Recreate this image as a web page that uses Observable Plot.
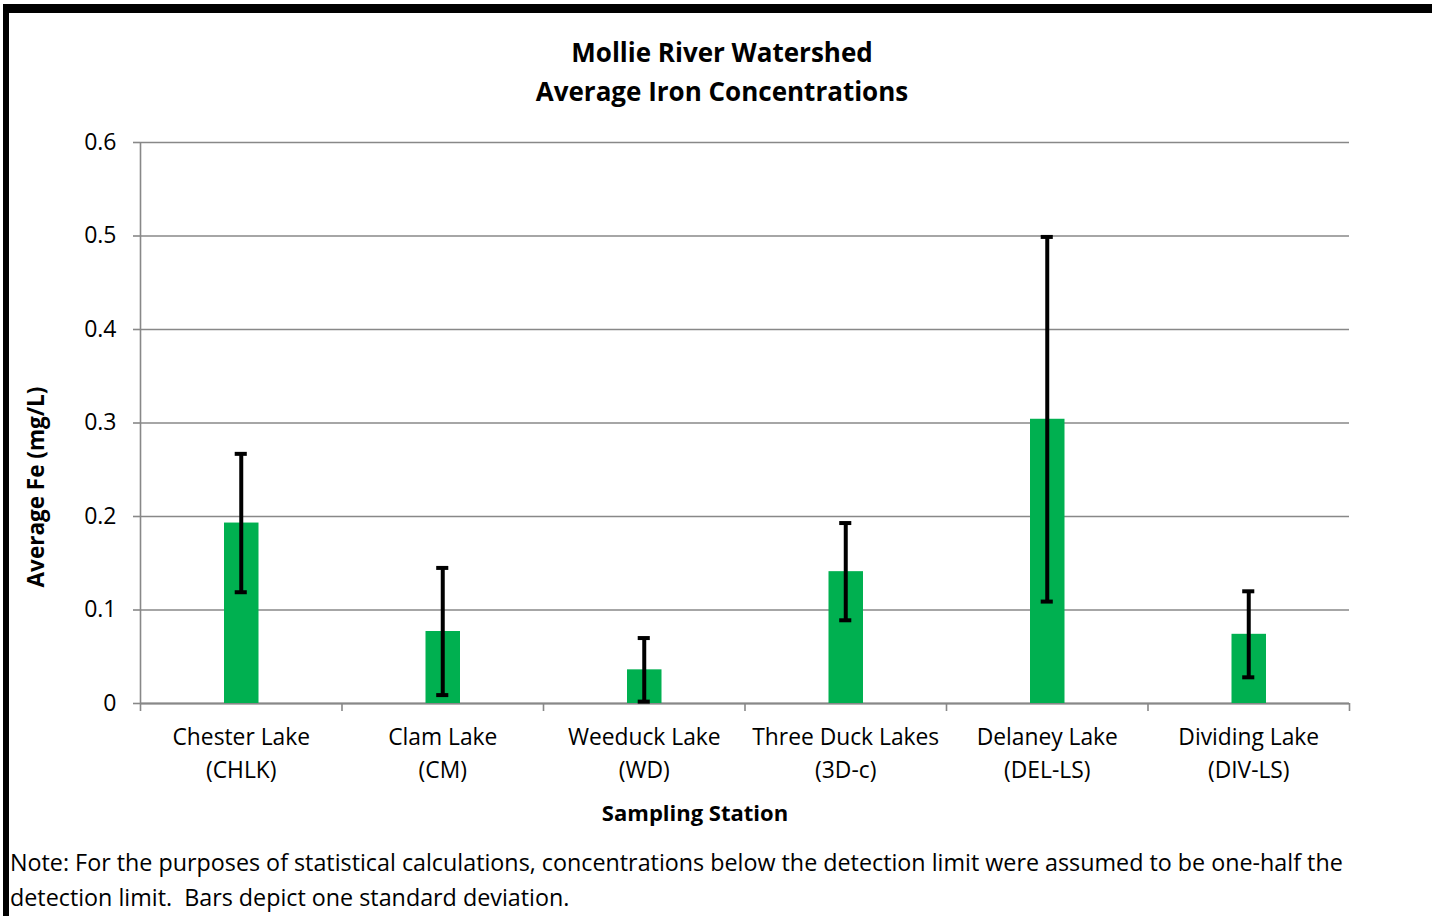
<!DOCTYPE html>
<html>
<head>
<meta charset="utf-8">
<script src="https://cdn.jsdelivr.net/npm/d3@7"></script>
<script src="https://cdn.jsdelivr.net/npm/@observablehq/plot@0.6"></script>
<style>
  html, body { margin: 0; padding: 0; background: #fff; }
  body { width: 1432px; height: 916px; overflow: hidden; font-family: "Open Sans", sans-serif; }
  #wrap { position: relative; width: 1432px; height: 916px; }
  #frame { position: absolute; left: 3px; top: 4px; right: 0; bottom: 0; border-top: 9px solid #000; border-left: 6px solid #000; }
  .t { position: absolute; white-space: nowrap; color: #000; }
  #title { left: 0; width: 1444px; top: 33px; text-align: center; font-weight: bold; font-size: 26px; line-height: 39px; }
  #ylab { left: 35px; top: 487px; transform: translate(-50%, -50%) rotate(-90deg); font-weight: bold; font-size: 22.5px; }
  #xlab { left: 695px; top: 812px; transform: translate(-50%, -50%); font-weight: bold; font-size: 22px; }
  #note { left: 10px; top: 845px; font-size: 23.3px; line-height: 35px; }
  svg { position: absolute; left: 0; top: 0; }
</style>
</head>
<body>
<div id="wrap">
  <div id="chart"></div>
  <div id="frame"></div>
  <div class="t" id="title">Mollie River Watershed<br>Average Iron Concentrations</div>
  <div class="t" id="ylab">Average Fe (mg/L)</div>
  <div class="t" id="xlab">Sampling Station</div>
  <div class="t" id="note">Note: For the purposes of statistical calculations, concentrations below the detection limit were assumed to be one-half the<br>detection limit.&nbsp; Bars depict one standard deviation.</div>
</div>
<script>
const stations = ["Chester Lake\n(CHLK)", "Clam Lake\n(CM)", "Weeduck Lake\n(WD)", "Three Duck Lakes\n(3D-c)", "Delaney Lake\n(DEL-LS)", "Dividing Lake\n(DIV-LS)"];
const means = [0.193, 0.077, 0.036, 0.141, 0.304, 0.074];
const sds = [0.074, 0.068, 0.034, 0.052, 0.195, 0.046];
const yTicks = [0, 0.1, 0.2, 0.3, 0.4, 0.5, 0.6];

const data = stations.map((s, i) => ({i, station: s, mean: means[i], sd: sds[i]}));
const idx = d3.range(stations.length + 1);
const centers = d3.range(stations.length).map(i => i + 0.5);

const chart = Plot.plot({
  width: 1432,
  height: 916,
  marginLeft: 140,
  marginRight: 83,
  marginTop: 142,
  marginBottom: 213,
  style: {fontFamily: "'Open Sans', sans-serif", fontSize: "22px", color: "#000", background: "transparent"},
  x: {domain: [0, stations.length], axis: null},
  y: {domain: [0, 0.6], axis: null},
  marks: [
    Plot.gridY(yTicks, {stroke: "#888", strokeOpacity: 1, strokeWidth: 1.6}),
    Plot.axisY(yTicks, {tickSize: 7, tickPadding: 17, stroke: "#888", strokeWidth: 1.6, tickFormat: d => d === 0 ? "0" : d3.format(".1f")(d), fontSize: 23, label: null}),
    Plot.ruleX([0], {stroke: "#888", strokeWidth: 1.6}),
    Plot.ruleY([0], {stroke: "#888", strokeWidth: 2}),
    Plot.axisX(idx, {tickSize: 8, tickFormat: () => "", stroke: "#888", strokeWidth: 1.6, label: null}),
    Plot.axisX(centers, {tickSize: 0, tickPadding: 18, tickFormat: d => stations[Math.floor(d)], fontSize: 22.8, lineHeight: 1.45, label: null}),
    Plot.rectY(data, {x1: "i", x2: d => d.i + 1, y1: 0, y2: "mean", fill: "#00B050", insetLeft: 84, insetRight: 83}),
    Plot.ruleX(data, {x: d => d.i + 0.5, y1: d => d.mean - d.sd, y2: d => d.mean + d.sd, stroke: "#000", strokeWidth: 4}),
    Plot.ruleY(data, {y: d => d.mean + d.sd, x1: d => d.i + 0.47, x2: d => d.i + 0.53, stroke: "#000", strokeWidth: 4}),
    Plot.ruleY(data, {y: d => d.mean - d.sd, x1: d => d.i + 0.47, x2: d => d.i + 0.53, stroke: "#000", strokeWidth: 4})
  ]
});
document.getElementById("chart").appendChild(chart);
</script>
</body>
</html>
